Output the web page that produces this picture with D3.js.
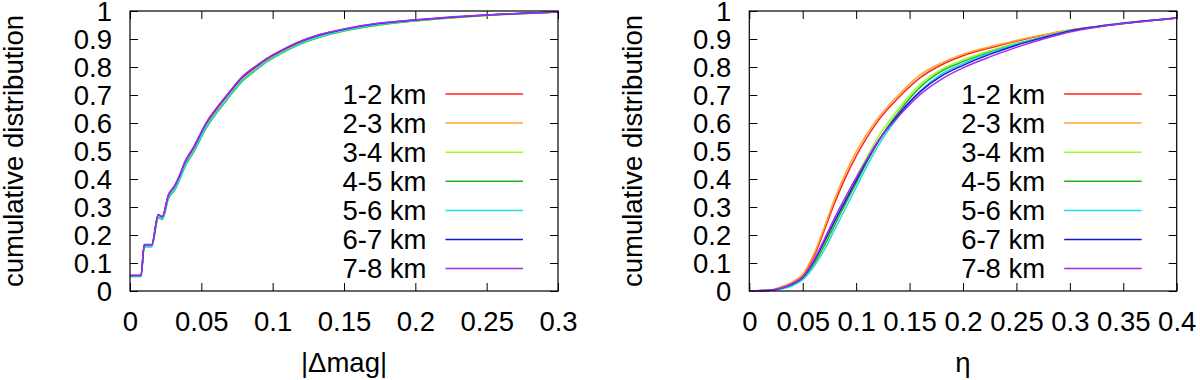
<!DOCTYPE html>
<html>
<head>
<meta charset="utf-8">
<script src="https://cdn.jsdelivr.net/npm/d3@7/dist/d3.min.js"></script>
<style>
  body { margin: 0; background: #fff; }
  svg text { font-family: "Liberation Sans", Arial, sans-serif; fill: #000; }
</style>
</head>
<body>
<svg id="chart" width="1200" height="380"></svg>
<script>
// series names and colours
const names = ["1-2 km", "2-3 km", "3-4 km", "4-5 km", "5-6 km", "6-7 km", "7-8 km"];
const colors = ["#ff2222", "#ffa530", "#99ff22", "#22b522", "#22dddd", "#1515e0", "#a52aee"];

// left panel: |Δmag|
const mag_x = [0, 0.0077, 0.010, 0.0152, 0.0198, 0.0226, 0.0268, 0.0315, 0.035, 0.0386, 0.0442, 0.054, 0.061, 0.069, 0.078, 0.089, 0.096, 0.105, 0.117, 0.133, 0.15, 0.175, 0.2, 0.225, 0.25, 0.275, 0.3];
const mag_12 = [.054,.054,.164,.164,.270,.262,.337,.372,.410,.456,.504,.598,.648,.700,.755,.800,.826,.852,.882,.911,.932,.953,.966,.977,.985,.991,.996];
const mag_23 = [.054,.054,.163,.163,.268,.261,.335,.370,.408,.453,.500,.595,.645,.697,.752,.797,.823,.849,.879,.908,.929,.950,.964,.975,.984,.990,.996];
const mag_34 = [.053,.053,.160,.160,.264,.257,.330,.364,.401,.446,.493,.588,.638,.690,.746,.792,.818,.845,.876,.906,.928,.950,.964,.976,.984,.991,.996];
const mag_45 = [.052,.052,.158,.158,.262,.255,.328,.362,.400,.445,.492,.587,.638,.690,.746,.792,.819,.846,.877,.907,.929,.951,.965,.976,.985,.991,.996];
const mag_56 = [.053,.053,.159,.159,.263,.256,.330,.365,.402,.447,.495,.590,.640,.692,.748,.794,.820,.847,.878,.908,.930,.952,.966,.977,.985,.991,.996];
const mag_67 = [.055,.055,.165,.165,.272,.265,.341,.377,.415,.461,.509,.604,.654,.705,.760,.805,.830,.856,.886,.915,.935,.956,.968,.978,.986,.992,.996];
const mag_78 = [.056,.056,.166,.166,.273,.266,.342,.378,.417,.463,.511,.606,.656,.707,.762,.806,.831,.857,.887,.916,.936,.957,.969,.979,.986,.992,.996];

// right panel: η
const eta_x = [0, 0.02, 0.03, 0.04, 0.05, 0.06, 0.07, 0.08, 0.09, 0.10, 0.11, 0.12, 0.14, 0.16, 0.18, 0.20, 0.225, 0.25, 0.275, 0.30, 0.325, 0.35, 0.375, 0.40];
const eta_12 = [0,.004,.014,.030,.057,.120,.215,.315,.405,.482,.548,.605,.692,.762,.808,.840,.868,.892,.913,.931,.944,.955,.965,.975];
const eta_23 = [0,.004,.015,.032,.060,.128,.226,.330,.420,.497,.560,.615,.702,.772,.815,.846,.872,.895,.915,.933,.945,.956,.965,.974];
const eta_34 = [0,.003,.011,.025,.048,.100,.170,.250,.330,.405,.478,.546,.652,.738,.792,.826,.858,.885,.908,.930,.944,.956,.966,.975];
const eta_45 = [0,.003,.010,.023,.045,.093,.160,.236,.312,.385,.460,.530,.640,.728,.785,.819,.853,.882,.906,.929,.943,.955,.966,.975];
const eta_56 = [0,.002,.007,.018,.040,.085,.145,.220,.295,.370,.445,.515,.625,.714,.775,.812,.850,.882,.907,.930,.945,.957,.966,.975];
const eta_67 = [0,.003,.010,.024,.048,.103,.175,.250,.322,.395,.465,.530,.632,.712,.768,.806,.845,.878,.905,.929,.944,.956,.966,.975];
const eta_78 = [0,.003,.011,.026,.050,.108,.183,.262,.335,.405,.470,.533,.625,.702,.757,.797,.836,.870,.900,.925,.942,.955,.965,.975];

const y_ticks = [0, 0.1, 0.2, 0.3, 0.4, 0.5, 0.6, 0.7, 0.8, 0.9, 1];
const mag_ticks = [0, 0.05, 0.1, 0.15, 0.2, 0.25, 0.3];
const eta_ticks = [0, 0.05, 0.1, 0.15, 0.2, 0.25, 0.3, 0.35, 0.4];

const svg = d3.select("#chart");

function panel(opts){
  const {left, right, top, bottom, xs, series, xdomain, xticks, xlabel, ylabel_x} = opts;
  const g = svg.append("g");

  const x_scale = d3.scaleLinear().domain(xdomain).range([left, right]);
  const y_scale = d3.scaleLinear().domain([0, 1]).range([bottom, top]);
  const fmt = d => (d === 0 ? "0" : String(+d.toFixed(2)));

  const tick_len = 8;
  const font = 27.5;

  // axes with inward ticks (mirrored top/right)
  const ax_b = g.append("g").attr("transform", `translate(0,${bottom})`)
    .call(d3.axisBottom(x_scale).tickValues(xticks).tickSize(-tick_len).tickFormat(fmt));
  const ax_t = g.append("g").attr("transform", `translate(0,${top})`)
    .call(d3.axisTop(x_scale).tickValues(xticks).tickSize(-tick_len).tickFormat(""));
  const ax_l = g.append("g").attr("transform", `translate(${left},0)`)
    .call(d3.axisLeft(y_scale).tickValues(y_ticks).tickSize(-tick_len).tickPadding(18).tickFormat(fmt));
  const ax_r = g.append("g").attr("transform", `translate(${right},0)`)
    .call(d3.axisRight(y_scale).tickValues(y_ticks).tickSize(-tick_len).tickFormat(""));

  [ax_b, ax_t, ax_l, ax_r].forEach(a => {
    a.select(".domain").remove();
    a.selectAll(".tick line").attr("stroke", "#000").attr("stroke-width", 1);
    a.selectAll(".tick text").attr("font-size", font).attr("font-family", "Liberation Sans, Arial, sans-serif").attr("fill", "#000");
  });
  ax_b.selectAll(".tick text").attr("dy", null).attr("y", 40);
  ax_l.selectAll(".tick text").attr("dy", "0.35em");

  // curves
  const line = d3.line()
    .x((d, i) => x_scale(xs[i]))
    .y(d => y_scale(d))
    .curve(d3.curveMonotoneX);

  g.append("g").selectAll("path")
    .data(series)
    .enter()
    .append("path")
    .attr("d", d => line(d))
    .style("fill", "none")
    .style("stroke", (d, i) => colors[i])
    .style("stroke-width", 1.5)
    .style("stroke-linejoin", "round");

  // frame
  g.append("rect")
    .attr("x", left).attr("y", top)
    .attr("width", right - left).attr("height", bottom - top)
    .style("fill", "none").style("stroke", "#000").style("stroke-width", 1.2);

  // legend
  const legend = g.append("g");
  const rows = legend.selectAll("g")
    .data(names)
    .enter()
    .append("g")
    .attr("transform", (d, i) => `translate(0,${94 + i * 29.1})`);

  rows.append("text")
    .attr("x", right - 131.5)
    .attr("dy", "0.35em")
    .attr("text-anchor", "end")
    .attr("font-size", font)
    .text(d => d);

  rows.append("line")
    .attr("x1", right - 112.5)
    .attr("x2", right - 35)
    .style("stroke", (d, i) => colors[i])
    .style("stroke-width", 1.5);

  // axis labels
  g.append("text")
    .attr("text-anchor", "middle")
    .attr("x", (left + right) / 2)
    .attr("y", 372)
    .attr("font-size", font)
    .text(xlabel);

  g.append("text")
    .attr("text-anchor", "middle")
    .attr("transform", `translate(${ylabel_x},${(top + bottom) / 2})rotate(-90)`)
    .attr("font-size", font)
    .text("cumulative distribution");
}

panel({
  left: 130, right: 558, top: 11, bottom: 291,
  xs: mag_x,
  series: [mag_12, mag_23, mag_34, mag_45, mag_56, mag_67, mag_78],
  xdomain: [0, 0.3], xticks: mag_ticks,
  xlabel: "|\u0394mag|", ylabel_x: 23
});

panel({
  left: 749.3, right: 1176.7, top: 11, bottom: 291,
  xs: eta_x,
  series: [eta_12, eta_23, eta_34, eta_45, eta_56, eta_67, eta_78],
  xdomain: [0, 0.4], xticks: eta_ticks,
  xlabel: "\u03b7", ylabel_x: 642
});
</script>
</body>
</html>
